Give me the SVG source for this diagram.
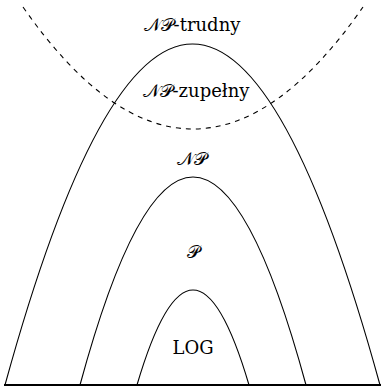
<svg xmlns="http://www.w3.org/2000/svg" width="381" height="390" viewBox="0 0 381 390">
<style>
.c{fill:none;stroke:#000;stroke-width:1.1}
.d{fill:none;stroke:#000;stroke-width:1.1;stroke-dasharray:5 5}
</style>
<rect width="381" height="390" fill="#fff"/>
<g id="connectors">
<path class="d" d="M23,7 Q193,251 363,7"/>
<line x1="4" y1="385" x2="381" y2="385" stroke="#000" stroke-width="2"/>
</g>
<g id="np"><path class="c" d="M5,385 Q192.5,-297 380,385"/></g>
<g id="p"><path class="c" d="M80,385 Q193,-31 306,385"/></g>
<g id="log"><path class="c" d="M137,385 Q193,195 249,385"/></g>
<g id="labels" font-family="DejaVu Serif, Liberation Serif, serif" font-size="18" text-anchor="middle" fill="#000">
<text x="192" y="31">𝒩𝒫-trudny</text>
<text x="196" y="97">𝒩𝒫-zupełny</text>
<text x="192" y="165">𝒩𝒫</text>
<text x="193" y="258">𝒫</text>
<text x="193" y="354">LOG</text>
</g>
</svg>
